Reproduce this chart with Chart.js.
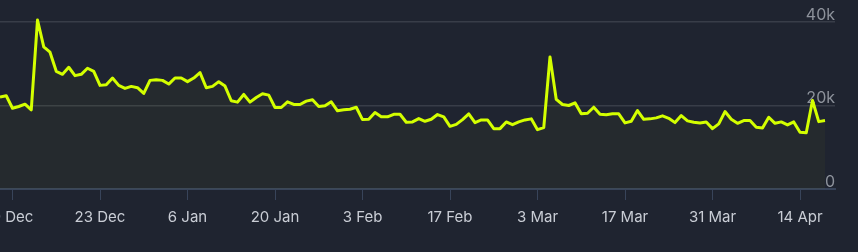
<!DOCTYPE html>
<html>
<head>
<meta charset="utf-8">
<script src="https://cdn.jsdelivr.net/npm/chart.js@4/dist/chart.umd.min.js"></script>
<style>
  html, body { margin: 0; padding: 0; background: #1f2430; }
  #wrap { position: relative; width: 858px; height: 252px; overflow: hidden; }
</style>
</head>
<body>
<div id="wrap"><canvas id="trend" width="858" height="252"></canvas></div>
<script>
// daily values, starting 7 Dec
var dailyValues = [
    22000, 22340, 19350, 19760, 20310, 18960, 40480, 34050, 32770, 28190,
    27470, 29160, 27150, 27470, 28920, 28190, 24820, 24990, 26580, 24820,
    24100, 24580, 24260, 22900, 26020, 26190, 26020, 25130, 26580, 26580,
    25710, 26580, 27880, 24260, 24580, 25710, 24650, 21130, 20800, 22650,
    20800, 21930, 22820, 22480, 19520, 19520, 20890, 20240, 20240, 21040,
    21370, 19760, 19930, 20890, 18720, 18960, 19110, 19590, 16630, 16700,
    18310, 17280, 17280, 17900, 17900, 15980, 16070, 16870, 16220, 16700,
    17830, 17280, 15010, 15490, 16630, 18000, 15900, 16550, 16550, 14460,
    14460, 16070, 15420, 16070, 16550, 16800, 14220, 14700, 31640, 21450,
    20240, 20000, 20650, 18000, 18140, 19590, 17900, 17760, 18000, 18000,
    15830, 16220, 18800, 16700, 16800, 17040, 17520, 16940, 15900, 17590,
    16310, 15980, 15830, 16070, 14460, 15590, 18550, 16700, 15730, 16390,
    16390, 14770, 14630, 17180, 15730, 16070, 15350, 16070, 13570, 13490,
    21200, 16140, 16390
];

// x ticks: day index -> label
var tickDays = [2, 16, 30, 44, 58, 72, 86, 100, 114, 128];
var tickLabels = ['9 Dec', '23 Dec', '6 Jan', '20 Jan', '3 Feb', '17 Feb', '3 Mar', '17 Mar', '31 Mar', '14 Apr'];
var yTicks = [0, 20000, 40000];

var points = dailyValues.map(function(v, i) { return { x: i, y: v }; });

var ctx = document.getElementById('trend');

new Chart(ctx, {
    type: 'line',
    data: {
        datasets: [{
            data: points,
            borderColor: '#d4ff00',
            backgroundColor: 'rgba(212, 255, 0, 0.03)',
            borderWidth: 3,
            borderJoinStyle: 'round',
            pointRadius: 0,
            tension: 0,
            fill: 'origin',
            clip: false
        }]
    },
    options: {
        responsive: false,
        animation: false,
        layout: {
            padding: { left: 0, right: 23, top: 22, bottom: 18 }
        },
        plugins: {
            legend: { display: false },
            tooltip: { enabled: false }
        },
        scales: {
            x: {
                type: 'linear',
                min: 0,
                max: 133.6,
                afterBuildTicks: function(scale) {
                    scale.ticks = tickDays.map(function(d) { return { value: d }; });
                },
                afterFit: function(scale) {
                    scale.paddingLeft = 0;
                    scale.paddingRight = 0;
                },
                ticks: {
                    autoSkip: false,
                    maxRotation: 0,
                    padding: 8,
                    color: '#c9cdd5',
                    font: { family: 'Inter', size: 15 },
                    callback: function(value) {
                        var i = tickDays.indexOf(value);
                        return i >= 0 ? tickLabels[i] : null;
                    }
                },
                grid: {
                    drawOnChartArea: false,
                    drawTicks: true,
                    tickLength: 11,
                    color: '#38445a'
                },
                border: { display: true, color: '#38445a', width: 2 }
            },
            y: {
                position: 'right',
                min: 0,
                max: 40000,
                afterBuildTicks: function(scale) {
                    scale.ticks = yTicks.map(function(v) { return { value: v }; });
                },
                ticks: {
                    mirror: true,
                    padding: 0,
                    labelOffset: -7,
                    color: '#8d929b',
                    font: { family: 'Inter', size: 16 },
                    callback: function(value) {
                        return value === 0 ? '0' : (value / 1000) + 'k';
                    }
                },
                grid: {
                    drawTicks: false,
                    color: function(c) {
                        return c.tick && c.tick.value === 0 ? 'rgba(0,0,0,0)' : '#383d48';
                    },
                    lineWidth: 1.5
                },
                border: { display: false }
            }
        }
    }
});
</script>
</body>
</html>
